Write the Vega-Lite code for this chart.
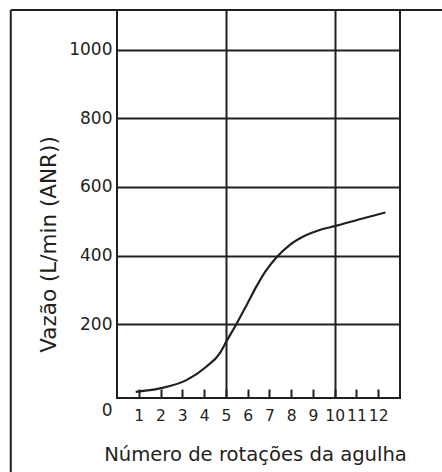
{
  "$schema": "https://vega.github.io/schema/vega-lite/v6.json",
  "width": 283,
  "height": 388,
  "autosize": {"type": "none"},
  "padding": {"left": 117, "top": 10, "right": 42, "bottom": 74},
  "background": "white",
  "config": {
    "view": {"stroke": "#231f20", "strokeWidth": 2},
    "font": "DejaVu Sans"
  },
  "resolve": {"scale": {"x": "independent", "y": "independent"}, "axis": {"x": "independent", "y": "independent"}},
  "layer": [
    {
      "data": {"values": [
        {"x": 0.86, "y": 4},
        {"x": 1.97, "y": 14},
        {"x": 3.19, "y": 38},
        {"x": 4.1, "y": 77},
        {"x": 4.72, "y": 116},
        {"x": 5.02, "y": 150},
        {"x": 5.5, "y": 203},
        {"x": 6.0, "y": 262},
        {"x": 6.4, "y": 310},
        {"x": 6.86, "y": 358},
        {"x": 7.32, "y": 395},
        {"x": 7.93, "y": 431},
        {"x": 8.7, "y": 460},
        {"x": 9.31, "y": 475},
        {"x": 10.0, "y": 486},
        {"x": 11.15, "y": 506},
        {"x": 12.33, "y": 526}
      ]},
      "mark": {"type": "line", "interpolate": "monotone", "color": "#231f20", "strokeWidth": 2.2},
      "encoding": {
        "x": {
          "field": "x", "type": "quantitative",
          "scale": {"domain": [0, 13], "nice": false, "zero": false},
          "axis": {
            "values": [1, 2, 3, 4, 5, 6, 7, 8, 9, 10, 11, 12],
            "format": "d",
            "domain": false,
            "ticks": true, "tickSize": -9, "tickWidth": 2, "tickColor": "#231f20",
            "grid": true, "gridColor": "#231f20", "gridWidth": 2,
            "gridOpacity": {"condition": {"test": "datum.value % 5 === 0", "value": 1}, "value": 0},
            "labelFontSize": 15.5, "labelColor": "#231f20", "labelPadding": 19,
            "labelFlush": false, "labelOverlap": false,
            "title": "Número de rotações da agulha",
            "titleFontSize": 19.6, "titleFontWeight": "normal", "titleColor": "#231f20",
            "titlePadding": 22, "titleX": 138
          }
        },
        "y": {
          "field": "y", "type": "quantitative",
          "scale": {"domain": [-14, 1115], "nice": false, "zero": false},
          "axis": {
            "values": [0, 200, 400, 600, 800, 1000],
            "format": "d",
            "domain": false, "ticks": false,
            "grid": true, "gridColor": "#231f20", "gridWidth": 2,
            "gridOpacity": {"condition": {"test": "datum.value > 0", "value": 1}, "value": 0},
            "labelFontSize": 17, "labelColor": "#231f20", "labelPadding": 5,
            "labelOffset": {"condition": {"test": "datum.value === 0", "value": 17}, "value": 0},
            "labelFlush": false, "labelOverlap": false,
            "title": "Vazão (L/min (ANR))",
            "titleFontSize": 21.5, "titleFontWeight": "normal", "titleColor": "#231f20",
            "titlePadding": 8, "titleY": 234
          }
        }
      }
    },
    {
      "data": {"values": [
        {"x": -4.88, "x2": 15.5, "y": 1115, "y2": 1115},
        {"x": -4.88, "x2": -4.88, "y": 1115, "y2": -240}
      ]},
      "mark": {"type": "rule", "color": "#231f20", "strokeWidth": 2, "clip": false},
      "encoding": {
        "x": {"field": "x", "type": "quantitative", "scale": {"domain": [0, 13], "nice": false, "zero": false}, "axis": null},
        "x2": {"field": "x2"},
        "y": {"field": "y", "type": "quantitative", "scale": {"domain": [-14, 1115], "nice": false, "zero": false}, "axis": null},
        "y2": {"field": "y2"}
      }
    }
  ]
}
